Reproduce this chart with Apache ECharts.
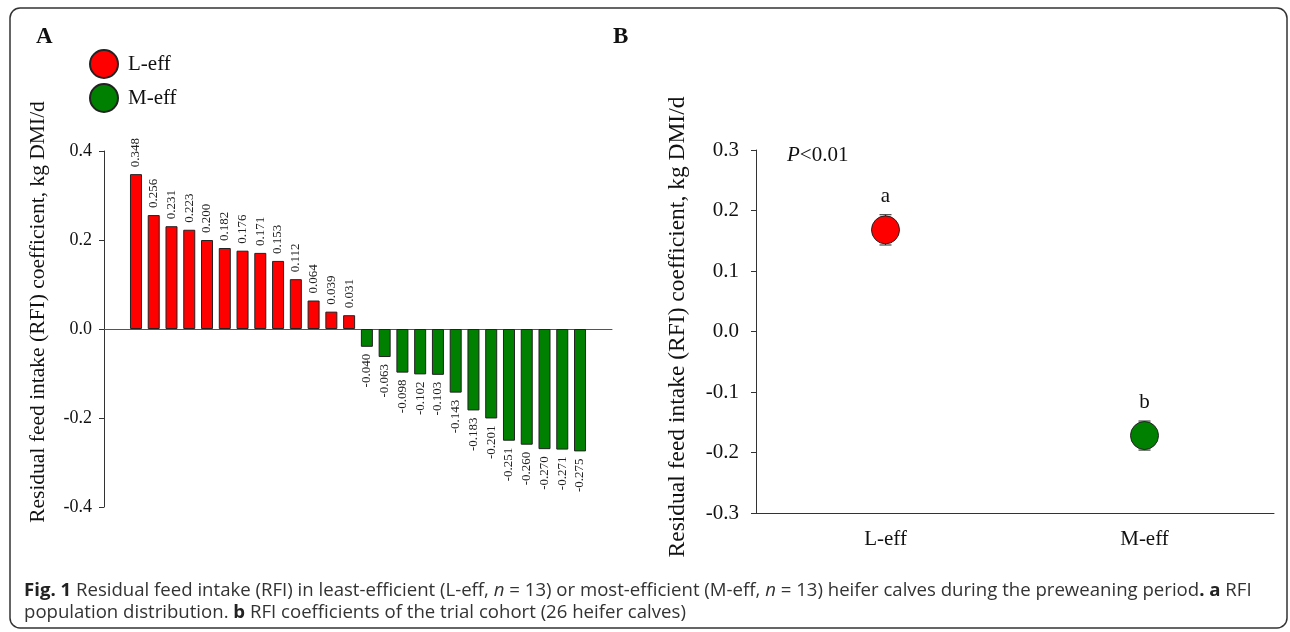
<!DOCTYPE html>
<html>
<head>
<meta charset="utf-8">
<script src="https://cdn.jsdelivr.net/npm/echarts@6/dist/echarts.min.js"></script>
<style>
  html, body { margin: 0; background: #fff; }
  #chart { width: 1290px; height: 632px; }
</style>
</head>
<body>
<div id="chart"></div>
<script>
// panel A: RFI of each heifer, sorted
const lEffValues = [0.348, 0.256, 0.231, 0.223, 0.200, 0.182, 0.176, 0.171, 0.153, 0.112, 0.064, 0.039, 0.031]
const mEffValues = [-0.040, -0.063, -0.098, -0.102, -0.103, -0.143, -0.183, -0.201, -0.251, -0.260, -0.270, -0.271, -0.275]

// panel B: group means with SE
const groupNames = ['L-eff', 'M-eff']
const groupMeans = [0.168, -0.172]
const groupSE = [0.025, 0.024]
const groupLetters = ['a', 'b']

const serif = 'Liberation Serif'
const red = '#ff0000'
const green = '#008000'

const barsL = lEffValues.map((v, i) => [i, v])
const barsM = mEffValues.map((v, i) => [i + lEffValues.length, v])

const chart = echarts.init(document.getElementById('chart'))

const barLabel = {
  show: true,
  rotate: 90,
  distance: 7,
  verticalAlign: 'middle',
  fontFamily: serif,
  fontSize: 13,
  color: '#222',
  formatter: p => p.value[1].toFixed(3),
}

chart.setOption({
  animation: false,
  legend: {
    data: ['L-eff', 'M-eff'],
    orient: 'vertical',
    left: 84,
    top: 44,
    icon: 'circle',
    itemWidth: 28,
    itemHeight: 28,
    itemGap: 4,
    selectedMode: false,
    textStyle: { fontFamily: serif, fontSize: 21, color: '#111', padding: [0, 0, 0, 5] },
  },
  grid: [
    { left: 104, top: 151, width: 508, height: 356 },
    { left: 756, top: 150, width: 518, height: 363 },
  ],
  xAxis: [
    {
      gridIndex: 0,
      type: 'value',
      min: -1.8,
      max: 26.8,
      axisLine: { onZero: true, lineStyle: { color: '#555', width: 1 } },
      axisTick: { show: false },
      axisLabel: { show: false },
      splitLine: { show: false },
    },
    {
      gridIndex: 1,
      type: 'category',
      data: groupNames,
      axisLine: { onZero: false, lineStyle: { color: '#333', width: 1 } },
      axisTick: { alignWithLabel: true, length: 5, lineStyle: { color: '#333' } },
      axisLabel: { fontFamily: serif, fontSize: 21, color: '#111', margin: 16 },
    },
  ],
  yAxis: [
    {
      gridIndex: 0,
      type: 'value',
      min: -0.4,
      max: 0.4,
      interval: 0.2,
      axisLine: { show: true, onZero: false, lineStyle: { color: '#333', width: 1 } },
      axisTick: { show: true, length: 5, lineStyle: { color: '#333' } },
      axisLabel: { fontFamily: serif, fontSize: 18, color: '#111', margin: 12, formatter: v => v.toFixed(1) },
      splitLine: { show: false },
    },
    {
      gridIndex: 1,
      type: 'value',
      min: -0.3,
      max: 0.3,
      interval: 0.1,
      axisLine: { show: true, onZero: false, lineStyle: { color: '#333', width: 1 } },
      axisTick: { show: true, length: 5, lineStyle: { color: '#333' } },
      axisLabel: { fontFamily: serif, fontSize: 21, color: '#111', margin: 17, formatter: v => v.toFixed(1) },
      splitLine: { show: false },
    },
  ],
  series: [
    {
      name: 'L-eff',
      type: 'bar',
      xAxisIndex: 0,
      yAxisIndex: 0,
      barWidth: 12,
      barGap: '-100%',
      data: barsL,
      itemStyle: { color: red, borderColor: '#222', borderWidth: 1 },
      label: Object.assign({}, barLabel, { position: 'top', align: 'left' }),
    },
    {
      name: 'M-eff',
      type: 'bar',
      xAxisIndex: 0,
      yAxisIndex: 0,
      barWidth: 12,
      barGap: '-100%',
      data: barsM,
      itemStyle: { color: green, borderColor: '#222', borderWidth: 1 },
      label: Object.assign({}, barLabel, { position: 'bottom', align: 'right' }),
    },
    {
      type: 'custom',
      xAxisIndex: 1,
      yAxisIndex: 1,
      z: 1,
      data: groupMeans.map((m, i) => [i, m - groupSE[i], m + groupSE[i]]),
      renderItem: (params, api) => {
        const lo = api.coord([api.value(0), api.value(1)])
        const hi = api.coord([api.value(0), api.value(2)])
        const s = { stroke: '#222', lineWidth: 1 }
        return {
          type: 'group',
          children: [
            { type: 'line', shape: { x1: lo[0], y1: lo[1], x2: hi[0], y2: hi[1] }, style: s },
            { type: 'line', shape: { x1: lo[0] - 6, y1: lo[1], x2: lo[0] + 6, y2: lo[1] }, style: s },
            { type: 'line', shape: { x1: hi[0] - 6, y1: hi[1], x2: hi[0] + 6, y2: hi[1] }, style: s },
          ],
        }
      },
    },
    {
      name: 'means',
      type: 'scatter',
      xAxisIndex: 1,
      yAxisIndex: 1,
      z: 3,
      symbolSize: 28,
      data: groupMeans.map((m, i) => ({
        value: [i, m],
        itemStyle: { color: i === 0 ? red : green },
      })),
      itemStyle: { borderColor: '#222', borderWidth: 1, opacity: 1 },
      label: {
        show: true,
        position: 'top',
        distance: 8,
        fontFamily: serif,
        fontSize: 21,
        color: '#111',
        formatter: p => groupLetters[p.dataIndex],
      },
    },
  ],
  graphic: [
    {
      type: 'rect',
      shape: { x: 10, y: 8, width: 1277, height: 620, r: 10 },
      style: { fill: 'none', stroke: '#333', lineWidth: 1.5 },
    },
    { type: 'text', x: 36, y: 37, style: { text: 'A', font: 'bold 23px "Liberation Serif"', fill: '#111', verticalAlign: 'middle' } },
    { type: 'text', x: 613, y: 37, style: { text: 'B', font: 'bold 23px "Liberation Serif"', fill: '#111', verticalAlign: 'middle' } },
    {
      type: 'text', x: 38, y: 312, rotation: Math.PI / 2,
      style: {
        text: 'Residual feed intake (RFI) coefficient, kg DMI/d',
        font: '21.5px "Liberation Serif"', fill: '#111', align: 'center', verticalAlign: 'middle',
      },
    },
    {
      type: 'text', x: 678, y: 327, rotation: Math.PI / 2,
      style: {
        text: 'Residual feed intake (RFI) coefficient, kg DMI/d',
        font: '23.5px "Liberation Serif"', fill: '#111', align: 'center', verticalAlign: 'middle',
      },
    },
    {
      type: 'text', x: 787, y: 155,
      style: {
        text: '{i|P}<0.01',
        font: '21px "Liberation Serif"', fill: '#111', verticalAlign: 'middle',
        rich: { i: { fontStyle: 'italic', fontFamily: serif, fontSize: 21 } },
      },
    },
    {
      type: 'text', x: 24, y: 591,
      style: {
        text: '{b|Fig. 1} Residual feed intake (RFI) in least-efficient (L-eff, {i|n} = 13) or most-efficient (M-eff, {i|n} = 13) heifer calves during the preweaning period{b|. a} RFI',
        font: '18.6px "Open Sans"', fill: '#333', verticalAlign: 'middle',
        rich: {
          b: { fontWeight: 'bold', fontFamily: 'Open Sans', fontSize: 18.6, fill: '#222' },
          i: { fontStyle: 'italic', fontFamily: 'Open Sans', fontSize: 18.6, fill: '#333' },
        },
      },
    },
    {
      type: 'text', x: 24, y: 613,
      style: {
        text: 'population distribution. {b|b} RFI coefficients of the trial cohort (26 heifer calves)',
        font: '18.6px "Open Sans"', fill: '#333', verticalAlign: 'middle',
        rich: { b: { fontWeight: 'bold', fontFamily: 'Open Sans', fontSize: 18.6, fill: '#222' } },
      },
    },
  ],
})
</script>
</body>
</html>
